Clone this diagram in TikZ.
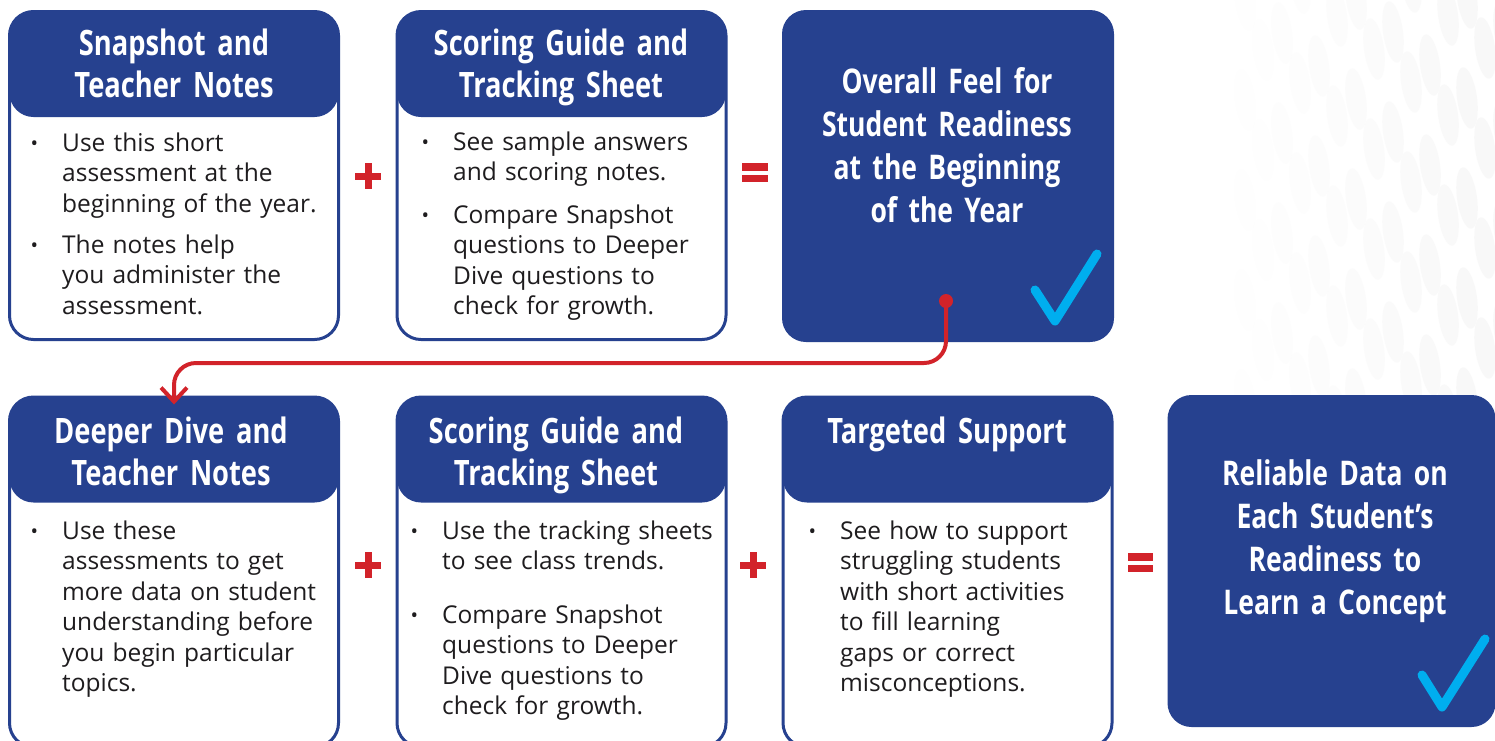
\documentclass[tikz,border=0pt]{standalone}
\usepackage{fontspec}
\setmainfont{Open Sans}
\newfontfamily\headfont{Open Sans}[FakeStretch=0.78]
\usetikzlibrary{arrows.meta}
\definecolor{hblue}{RGB}{38,65,143}
\definecolor{cred}{RGB}{210,35,42}
\definecolor{ccyan}{RGB}{0,174,239}
\definecolor{ctext}{RGB}{30,28,30}
\tikzset{
  obox/.style={draw=hblue, line width=3pt, fill=white, rounded corners=24pt, inner sep=0pt,
    minimum width=329pt, path picture={\fill[hblue] (path picture bounding box.north west) rectangle ([yshift=-105.5pt]path picture bounding box.north east);}},
  fbox/.style={fill=hblue, rounded corners=24pt, inner sep=0pt},
  hd/.style={font=\headfont\bfseries\fontsize{35}{42}\selectfont, text=white, align=center, text width=330pt, inner sep=0pt, anchor=base},
  fhd/.style={font=\headfont\bfseries\fontsize{34}{43}\selectfont, text=white, align=center, text width=330pt, inner sep=0pt, anchor=base},
  item/.style={font=\fontsize{24.5}{30.5}\selectfont, text=ctext, align=left, text width=290pt, inner sep=0pt, anchor=base west},
  conn/.style={draw=cred, line width=4pt, rounded corners=22pt},
  sym/.style={fill=cred},
  chk/.style={draw=ccyan, line width=9pt, line cap=round, line join=round},
  bgdot/.style={fill=black!3}
}
\newcommand{\bul}{\llap{\raisebox{1pt}{\fontsize{20}{20}\selectfont\textbullet}\hspace{24pt}}}
\begin{document}
\begin{tikzpicture}[x=1pt, y=-1pt]
\clip (0,0) rectangle (1495,740);
\fill[white] (0,0) rectangle (1495,740);
% background pattern
\foreach \i in {0,...,7}{
  \foreach \j in {-1,...,4}{
    \pgfmathsetmacro{\xx}{1245+\i*37}
    \pgfmathsetmacro{\yy}{\j*100+mod(\i*33,100)}
    \pgfmathsetmacro{\op}{0.1+\i*0.11}
    \fill[bgdot, opacity=\op, shift={(\xx,\yy)}, rotate=8] (0,0) ellipse [x radius=10, y radius=31];
    \fill[bgdot, opacity=\op, shift={(\xx+18,\yy+50)}, rotate=8] (0,0) ellipse [x radius=10, y radius=31];
  }
}
% top row
\node[obox, minimum height=328pt] (b1) at (174,175.5) {};
\node[obox, minimum height=328pt] (b2) at (561.5,175.5) {};
\node[fbox, minimum width=332pt, minimum height=332pt] (b3) at (948,176) {};
% bottom row
\node[obox, minimum height=350pt] (b4) at (174,572) {};
\node[obox, minimum height=350pt] (b5) at (561.5,572) {};
\node[obox, minimum height=350pt] (b6) at (947.5,572) {};
\node[fbox, minimum width=328pt, minimum height=332pt] (b7) at (1331.5,561) {};
% headings
\node[hd] (h1) at (174,55) {Snapshot and\\Teacher Notes};
\node[hd] (h2) at (561,55) {Scoring Guide and\\Tracking Sheet};
\node[fhd] (h3) at (947,93) {Overall Feel for\\Student Readiness\\at the Beginning\\of the Year};
\node[hd] (h4) at (171,443) {Deeper Dive and\\Teacher Notes};
\node[hd] (h5) at (556,443) {Scoring Guide and\\Tracking Sheet};
\node[hd] (h6) at (947,443) {Targeted Support};
\node[fhd] (h7) at (1335,485) {Reliable Data on\\Each Student’s\\Readiness to\\Learn a Concept};
% bullet items
\node[item] (t11) at (62,151) {\bul Use this short\\assessment at the\\beginning of the year.};
\node[item] (t12) at (62,253) {\bul The notes help\\you administer the\\assessment.};
\node[item] (t21) at (453,150) {\bul See sample answers\\and scoring notes.};
\node[item] (t22) at (453,223) {\bul Compare Snapshot\\questions to Deeper\\Dive questions to\\check for growth.};
\node[item] (t41) at (62,539) {\bul Use these\\assessments to get\\more data on student\\understanding before\\you begin particular\\topics.};
\node[item] (t51) at (442,539) {\bul Use the tracking sheets\\to see class trends.};
\node[item] (t52) at (442,623) {\bul Compare Snapshot\\questions to Deeper\\Dive questions to\\check for growth.};
\node[item] (t61) at (840,539) {\bul See how to support\\struggling students\\with short activities\\to fill learning\\gaps or correct\\misconceptions.};
% plus and equals
\fill[sym] (355,172.5) rectangle (381,179.5);
\fill[sym] (364.5,163) rectangle (371.5,189);
\fill[sym] (742,163) rectangle (768,171);
\fill[sym] (742,175) rectangle (768,182);
\fill[sym] (355,561.5) rectangle (381,568.5);
\fill[sym] (364.5,552) rectangle (371.5,578);
\fill[sym] (740,561.5) rectangle (766,568.5);
\fill[sym] (749.5,552) rectangle (756.5,578);
\fill[sym] (1128,553) rectangle (1153,561);
\fill[sym] (1128,565) rectangle (1153,572);
% check marks
\draw[chk] (1035,290) -- (1055,321) -- (1097,254);
\draw[chk] (1422,675) -- (1442,707) -- (1485,639);
% connector
\coordinate (c0) at (946,301);
\draw[conn, -{Straight Barb[length=14pt,width=26pt]}] (c0) -- (c0 |- 0,363) -- (b4.north |- 0,363) -- ([yshift=-9pt]b4.north);
\fill[cred] (c0) circle (7);
\end{tikzpicture}
\end{document}
